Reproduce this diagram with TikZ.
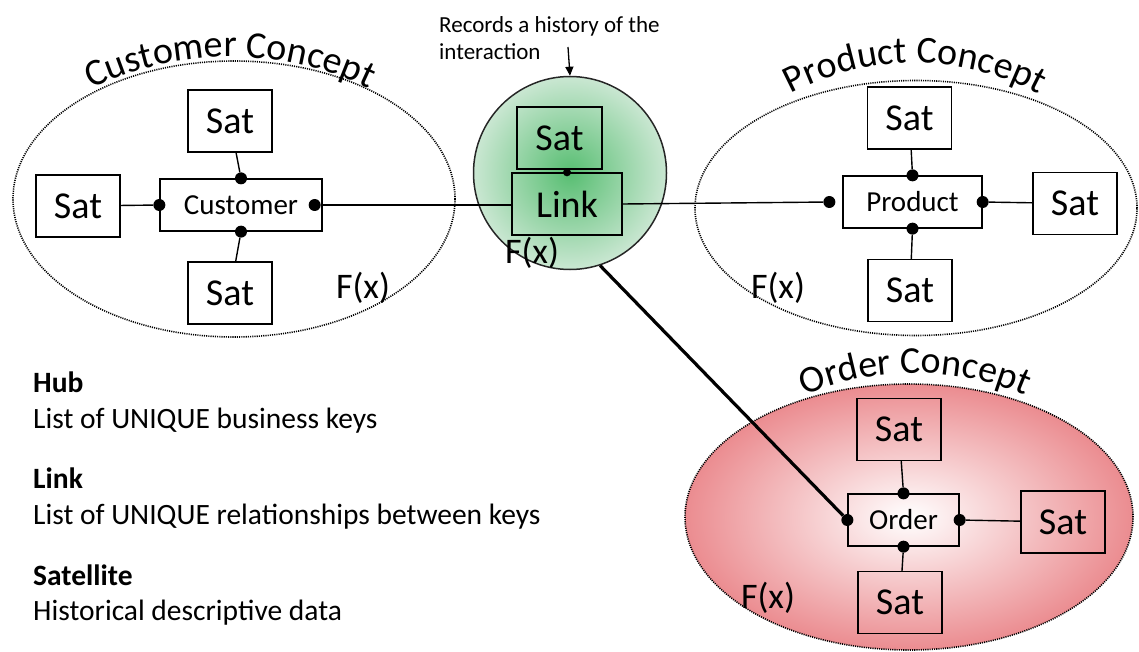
\documentclass[tikz,border=0pt]{standalone}
\usepackage{fontspec}
\setmainfont{Carlito}
\usepackage{tikz}
\usetikzlibrary{shapes.geometric,decorations.text,arrows.meta,positioning}

\definecolor{linkdark}{RGB}{88,190,114}
\definecolor{linklight}{RGB}{202,231,210}
\definecolor{orderpink}{RGB}{235,140,144}
\newcommand\conceptfont{\fontsize{38}{42}\selectfont}

\begin{document}
\begin{tikzpicture}[
  x=1pt, y=-1pt,
  satbox/.style={draw, line width=1.3pt, minimum width=84pt, minimum height=62pt,
    inner sep=0pt, font=\fontsize{38}{42}\selectfont},
  hubbox/.style={draw, line width=1.3pt, minimum height=52pt, inner sep=0pt,
    font=\fontsize{29}{32}\selectfont},
  keydot/.style={circle, fill=black, inner sep=0pt, minimum size=12pt},
  concept/.style={ellipse, draw=black, line width=1.6pt,
    dash pattern=on 1.1pt off 1.1pt, inner sep=0pt},
  linkball/.style={circle, draw=black!85, line width=1.5pt, inner sep=0pt,
    inner color=linkdark, outer color=linklight},
  fx/.style={inner sep=0pt, font=\fontsize{36}{40}\selectfont},
  legend/.style={anchor=base west, inner sep=0pt, font=\fontsize{29.5}{32}\selectfont},
  wire/.style={line width=1.4pt},
  bigwire/.style={line width=3.2pt},
  arr/.style={line width=1.3pt, -{Triangle[length=9pt,width=8pt]}},
  curved/.style={decorate, decoration={text along path, text align=center,
    text={|\conceptfont|#1}}}
]
\useasboundingbox (0,0) rectangle (1139,652);

\node[concept, minimum width=442pt, minimum height=276pt] (cstc) at (234,199) {};
\node[concept, minimum width=442pt, minimum height=255pt] (prdc) at (916,208) {};
\node[concept, minimum width=448pt, minimum height=266pt,
  inner color=white, outer color=orderpink] (ordc) at (909,517) {};
\node[linkball, minimum size=193pt] (lnkc) at (570,173) {};

\path[curved=Customer Concept] (230,377) ++(232:320)
  arc[start angle=232, end angle=308, radius=320];
\path[curved=Product Concept] (915,325) ++(226:262)
  arc[start angle=226, end angle=314, radius=262];
\path[curved=Order Concept] (915,653) ++(230:280)
  arc[start angle=230, end angle=310, radius=280];

\node[hubbox, minimum width=162pt] (cst) at (241,205) {Customer};
\node[satbox] (cst-up) at (230,121) {Sat};
\node[satbox] (cst-lt) at (78,206) {Sat};
\node[satbox] (cst-dn) at (230,293) {Sat};
\node[fx] (cst-fx) at (363,288) {F(x)};
\node[keydot] (cst-n) at (cst.north) {};
\node[keydot] (cst-w) at (cst.west) {};
\node[keydot] (cst-s) at (cst.south) {};
\node[keydot, left=8pt of cst.east, anchor=center] (cst-e) {};

\node[satbox, minimum width=85pt] (lnk-up) at (559.5,138) {Sat};
\node[hubbox, minimum width=110pt, minimum height=62pt,
  font=\fontsize{38}{42}\selectfont] (lnk) at (567,204) {Link};
\node[keydot, minimum size=8pt] (lnk-n) at (lnk.north) {};
\node[fx] (lnk-fx) at (532,253) {F(x)};

\node[hubbox, minimum width=139pt] (prd) at (912.5,202) {Product};
\node[satbox] (prd-up) at (909.5,118) {Sat};
\node[satbox] (prd-rt) at (1075,203.5) {Sat};
\node[satbox] (prd-dn) at (910,290.5) {Sat};
\node[fx] (prd-fx) at (778,288) {F(x)};
\node[keydot] (prd-n) at (prd.north) {};
\node[keydot] (prd-e) at (prd.east) {};
\node[keydot] (prd-s) at (prd.south) {};
\node[keydot, left=13pt of prd.west, anchor=center] (prd-w) {};

\node[hubbox, minimum width=111pt] (ord) at (903.5,520) {Order};
\node[satbox] (ord-up) at (899,429.5) {Sat};
\node[satbox] (ord-rt) at (1063,522) {Sat};
\node[satbox] (ord-dn) at (900,602.5) {Sat};
\node[fx] (ord-fx) at (768,598) {F(x)};
\node[keydot] (ord-n) at (ord.north) {};
\node[keydot] (ord-e) at (ord.east) {};
\node[keydot] (ord-s) at (ord.south) {};
\node[keydot] (ord-w) at (ord.west) {};

\draw[wire] (cst-up) -- (cst-n);
\draw[wire] (cst-lt) -- (cst-w);
\draw[wire] (cst-dn) -- (cst-s);
\draw[wire] (cst-e) -- (cst-e -| lnk.west);
\draw[wire] (lnk.east) -- (prd-w);
\draw[wire] (prd-up) -- (prd-n);
\draw[wire] (prd-rt) -- (prd-e);
\draw[wire] (prd-dn) -- (prd-s);
\draw[wire] (ord-up) -- (ord-n);
\draw[wire] (ord-rt) -- (ord-e);
\draw[wire] (ord-dn) -- (ord-s);
\draw[bigwire] (lnkc.-72) -- (ord-w);

\node[anchor=north west, align=left, inner sep=0pt,
  font=\fontsize{23}{27}\selectfont] (rec) at (439,16)
  {Records a history of the\\interaction};
\coordinate (rec-tip) at (568,47);
\draw[arr] (rec-tip) -- (lnkc.north);

\node[legend] (hub-h) at (33,392) {\textbf{Hub}};
\node[legend] (hub-t) at (33,428) {List of UNIQUE business keys};
\node[legend] (lnk-h) at (33,488) {\textbf{Link}};
\node[legend] (lnk-t) at (33,524) {List of UNIQUE relationships between keys};
\node[legend] (sat-h) at (33,585) {\textbf{Satellite}};
\node[legend] (sat-t) at (33,620) {Historical descriptive data};
\end{tikzpicture}
\end{document}
